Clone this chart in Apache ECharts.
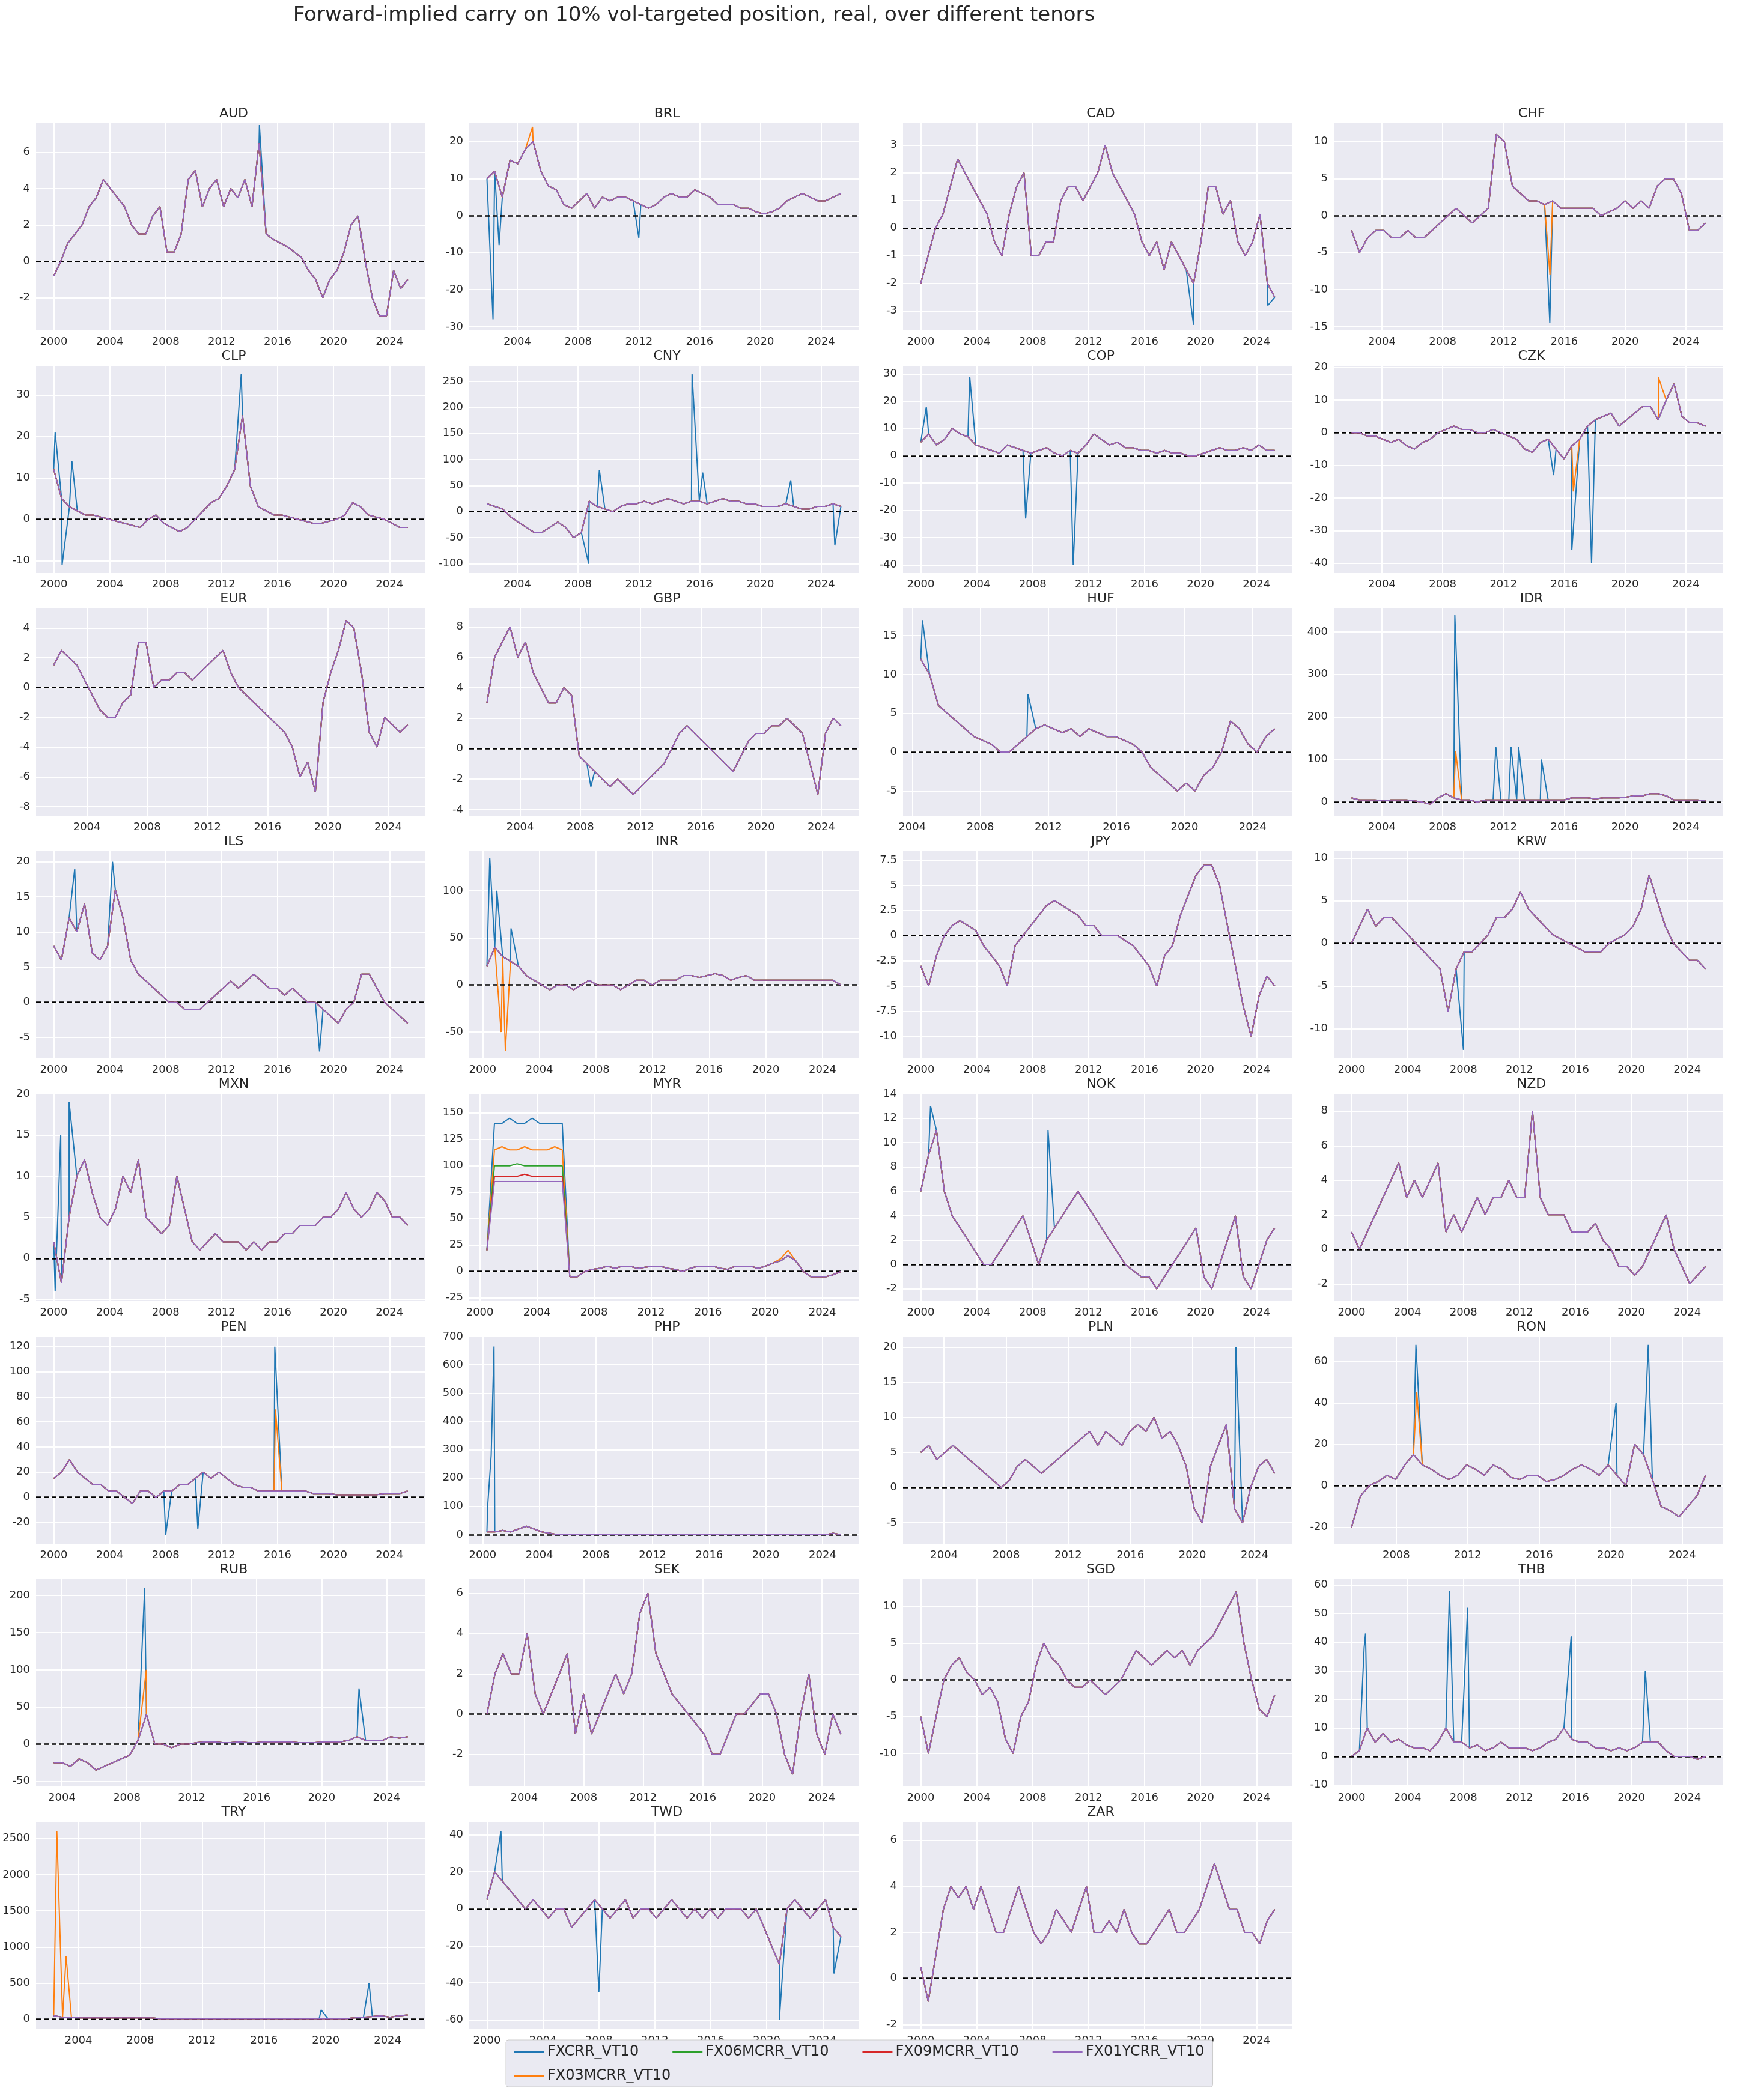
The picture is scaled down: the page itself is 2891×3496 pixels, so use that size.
<!DOCTYPE html>
<html>
<head>
<meta charset="utf-8">
<script src="https://cdn.jsdelivr.net/npm/echarts@6/dist/echarts.min.js"></script>
<style>html,body{margin:0;background:#fff}#chart{width:2891px;height:3496px}</style>
</head>
<body>
<div id="chart"></div>
<script>
// series names, drawn in this order (purple on top)
const seriesNames = ["FXCRR_VT10", "FX03MCRR_VT10", "FX06MCRR_VT10", "FX09MCRR_VT10", "FX01YCRR_VT10"];
const colors = ["#1f77b4", "#ff7f0e", "#2ca02c", "#d62728", "#9467bd"];

// each panel: name, start/end year, purple values (evenly spaced), y range, y ticks [first, step]
// s = extra spike points [year, value, series index]
const panels = [
  {n: "AUD", a: 2000, e: 2025.3, yr: [-3.8, 7.6], yt: [-2, 2], s: [[2014.7, 7.5, 0]],
   p: [-0.8,0,1,1.5,2,3,3.5,4.5,4,3.5,3,2,1.5,1.5,2.5,3,0.5,0.5,1.5,4.5,5,3,4,4.5,3,4,3.5,4.5,3,6.5,1.5,1.2,1,0.8,0.5,0.2,-0.5,-1,-2,-1,-0.5,0.5,2,2.5,0,-2,-3,-3,-0.5,-1.5,-1]},
  {n: "BRL", a: 2002, e: 2025.3, yr: [-31, 25], yt: [-30, 10], s: [[2002.4, -28, 0], [2002.8, -8, 0], [2012, -6, 0], [2005, 24, 1]],
   p: [10,12,5,15,14,18,20,12,8,7,3,2,4,6,2,5,4,5,5,4,3,2,3,5,6,5,5,7,6,5,3,3,3,2,2,1,0.5,1,2,4,5,6,5,4,4,5,6]},
  {n: "CAD", a: 2000, e: 2025.3, yr: [-3.7, 3.8], yt: [-3, 1], s: [[2019.5, -3.5, 0], [2024.8, -2.8, 0]],
   p: [-2,-1,0,0.5,1.5,2.5,2,1.5,1,0.5,-0.5,-1,0.5,1.5,2,-1,-1,-0.5,-0.5,1,1.5,1.5,1,1.5,2,3,2,1.5,1,0.5,-0.5,-1,-0.5,-1.5,-0.5,-1,-1.5,-2,-0.5,1.5,1.5,0.5,1,-0.5,-1,-0.5,0.5,-2,-2.5]},
  {n: "CHF", a: 2002, e: 2025.3, yr: [-15.5, 12.5], yt: [-15, 5], s: [[2015.05, -14.5, 0], [2015.06, -8, 1]],
   p: [-2,-5,-3,-2,-2,-3,-3,-2,-3,-3,-2,-1,0,1,0,-1,0,1,11,10,4,3,2,2,1.5,2,1,1,1,1,1,0,0.5,1,2,1,2,1,4,5,5,3,-2,-2,-1]},
  {n: "CLP", a: 2000, e: 2025.3, yr: [-13, 37], yt: [-10, 10], s: [[2000.1, 21, 0], [2000.6, -11, 0], [2013.4, 35, 0], [2001.3, 14, 0]],
   p: [12,5,3,2,1,1,0.5,0,-0.5,-1,-1.5,-2,0,1,-1,-2,-3,-2,0,2,4,5,8,12,25,8,3,2,1,1,0.5,0,-0.5,-1,-1,-0.5,0,1,4,3,1,0.5,0,-1,-2,-2]},
  {n: "CNY", a: 2002, e: 2025.3, yr: [-118, 280], yt: [-100, 50], s: [[2015.5, 265, 0], [2009.4, 80, 0], [2008.7, -100, 0], [2024.9, -65, 0], [2022, 60, 0], [2016.2, 75, 0]],
   p: [15,10,5,-10,-20,-30,-40,-40,-30,-20,-30,-50,-40,20,10,5,0,10,15,15,20,15,20,25,20,15,20,20,15,20,25,20,20,15,15,10,10,10,15,10,5,5,10,10,15,10]},
  {n: "COP", a: 2000, e: 2025.3, yr: [-43, 33], yt: [-40, 10], s: [[2003.5, 29, 0], [2010.9, -40, 0], [2007.5, -23, 0], [2000.4, 18, 0]],
   p: [5,8,4,6,10,8,7,4,3,2,1,4,3,2,1,2,3,1,0,2,1,4,8,6,4,5,3,3,2,2,1,2,1,1,0,0,1,2,3,2,2,3,2,4,2,2]},
  {n: "CZK", a: 2002, e: 2025.3, yr: [-43, 20.5], yt: [-40, 10], s: [[2017.8, -40, 0], [2016.5, -36, 0], [2015.3, -13, 0], [2016.6, -18, 1], [2022.2, 17, 1]],
   p: [0,0,-1,-1,-2,-3,-2,-4,-5,-3,-2,0,1,2,1,1,0,0,1,0,-1,-2,-5,-6,-3,-2,-5,-8,-4,-2,2,4,5,6,2,4,6,8,8,4,10,15,5,3,3,2]},
  {n: "EUR", a: 2001.8, e: 2025.3, yr: [-8.6, 5.3], yt: [-8, 2], s: [],
   p: [1.5,2.5,2,1.5,0.5,-0.5,-1.5,-2,-2,-1,-0.5,3,3,0,0.5,0.5,1,1,0.5,1,1.5,2,2.5,1,0,-0.5,-1,-1.5,-2,-2.5,-3,-4,-6,-5,-7,-1,1,2.5,4.5,4,1,-3,-4,-2,-2.5,-3,-2.5]},
  {n: "GBP", a: 2001.8, e: 2025.3, yr: [-4.4, 9.2], yt: [-4, 2], s: [[2008.7, -2.5, 0]],
   p: [3,6,7,8,6,7,5,4,3,3,4,3.5,-0.5,-1,-1.5,-2,-2.5,-2,-2.5,-3,-2.5,-2,-1.5,-1,0,1,1.5,1,0.5,0,-0.5,-1,-1.5,-0.5,0.5,1,1,1.5,1.5,2,1.5,1,-1,-3,1,2,1.5]},
  {n: "HUF", a: 2004.5, e: 2025.3, yr: [-8.2, 18.5], yt: [-5, 5], s: [[2004.6, 17, 0], [2010.8, 7.5, 0]],
   p: [12,10,6,5,4,3,2,1.5,1,0,0,1,2,3,3.5,3,2.5,3,2,3,2.5,2,2,1.5,1,0,-2,-3,-4,-5,-4,-5,-3,-2,0,4,3,1,0,2,3]},
  {n: "IDR", a: 2002, e: 2025.3, yr: [-32, 455], yt: [0, 100], s: [[2008.8, 440, 0], [2011.5, 130, 0], [2012.5, 130, 0], [2013, 130, 0], [2014.5, 100, 0], [2008.85, 120, 1]],
   p: [10,5,5,5,3,5,5,5,3,0,-5,10,20,10,5,5,0,5,5,5,5,5,5,5,5,5,5,5,10,10,10,8,10,10,10,12,15,15,20,20,15,5,5,5,5,3]},
  {n: "ILS", a: 2000, e: 2025.3, yr: [-8, 21.5], yt: [-5, 5], s: [[2004.2, 20, 0], [2001.5, 19, 0], [2019, -7, 0]],
   p: [8,6,12,10,14,7,6,8,16,12,6,4,3,2,1,0,0,-1,-1,-1,0,1,2,3,2,3,4,3,2,2,1,2,1,0,0,-1,-2,-3,-1,0,4,4,2,0,-1,-2,-3]},
  {n: "INR", a: 2000.3, e: 2025.3, yr: [-78, 142], yt: [-50, 50], s: [[2000.5, 135, 0], [2001, 100, 0], [2002, 60, 0], [2001.6, -70, 1], [2001.3, -50, 1]],
   p: [20,40,30,25,20,10,5,0,-5,0,0,-5,0,5,0,0,0,-5,0,5,5,0,5,5,5,10,10,8,10,12,10,5,8,10,5,5,5,5,5,5,5,5,5,5,5,0]},
  {n: "JPY", a: 2000, e: 2025.3, yr: [-12.2, 8.4], yt: [-10, 2.5], s: [],
   p: [-3,-5,-2,0,1,1.5,1,0.5,-1,-2,-3,-5,-1,0,1,2,3,3.5,3,2.5,2,1,1,0,0,0,-0.5,-1,-2,-3,-5,-2,-1,2,4,6,7,7,5,1,-3,-7,-10,-6,-4,-5]},
  {n: "KRW", a: 2000, e: 2025.3, yr: [-13.5, 10.8], yt: [-10, 5], s: [[2008, -12.5, 0]],
   p: [0,2,4,2,3,3,2,1,0,-1,-2,-3,-8,-3,-1,-1,0,1,3,3,4,6,4,3,2,1,0.5,0,-0.5,-1,-1,-1,0,0.5,1,2,4,8,5,2,0,-1,-2,-2,-3]},
  {n: "MXN", a: 2000, e: 2025.3, yr: [-5.2, 20], yt: [-5, 5], s: [[2000.5, 15, 0], [2001.1, 19, 0], [2000.1, -4, 0]],
   p: [2,-3,5,10,12,8,5,4,6,10,8,12,5,4,3,4,10,6,2,1,2,3,2,2,2,1,2,1,2,2,3,3,4,4,4,5,5,6,8,6,5,6,8,7,5,5,4]},
  {n: "MYR", a: 2000.5, e: 2025.3, yr: [-28, 168], yt: [-25, 25], s: [],
   b: [20,140,140,145,140,140,145,140,140,140,140,-5,-5,0,2,3,5,3,5,5,3,4,5,5,3,2,0,3,5,5,5,3,2,5,5,5,3,5,8,10,15,10,0,-5,-5,-5,-3,0],
   o: [20,115,118,115,115,118,115,115,115,118,115,-5,-5,0,2,3,5,3,5,5,3,4,5,5,3,2,0,3,5,5,5,3,2,5,5,5,3,5,8,12,20,10,0,-5,-5,-5,-3,0],
   g: [20,100,100,100,102,100,100,100,100,100,100,-5,-5,0,2,3,5,3,5,5,3,4,5,5,3,2,0,3,5,5,5,3,2,5,5,5,3,5,8,10,15,10,0,-5,-5,-5,-3,0],
   r: [20,90,90,90,90,92,90,90,90,90,90,-5,-5,0,2,3,5,3,5,5,3,4,5,5,3,2,0,3,5,5,5,3,2,5,5,5,3,5,8,10,15,10,0,-5,-5,-5,-3,0],
   p: [20,85,85,85,85,85,85,85,85,85,85,-5,-5,0,2,3,5,3,5,5,3,4,5,5,3,2,0,3,5,5,5,3,2,5,5,5,3,5,8,10,15,10,0,-5,-5,-5,-3,0]},
  {n: "NOK", a: 2000, e: 2025.3, yr: [-3, 14], yt: [-2, 2], s: [[2009.1, 11, 0], [2000.7, 13, 0]],
   p: [6,9,11,6,4,3,2,1,0,0,1,2,3,4,2,0,2,3,4,5,6,5,4,3,2,1,0,-0.5,-1,-1,-2,-1,0,1,2,3,-1,-2,0,2,4,-1,-2,0,2,3]},
  {n: "NZD", a: 2000, e: 2025.3, yr: [-3, 9], yt: [-2, 2], s: [],
   p: [1,0,1,2,3,4,5,3,4,3,4,5,1,2,1,2,3,2,3,3,4,3,3,8,3,2,2,2,1,1,1,1.5,0.5,0,-1,-1,-1.5,-1,0,1,2,0,-1,-2,-1.5,-1]},
  {n: "PEN", a: 2000, e: 2025.3, yr: [-37, 128], yt: [-20, 20], s: [[2015.8, 120, 0], [2008, -30, 0], [2010.3, -25, 0], [2015.85, 70, 1]],
   p: [15,20,30,20,15,10,10,5,5,0,-5,5,5,0,5,5,10,10,15,20,15,20,15,10,8,8,5,5,5,5,5,5,5,3,3,3,2,2,2,2,2,2,3,3,3,5]},
  {n: "PHP", a: 2000.3, e: 2025.3, yr: [-32, 700], yt: [0, 100], s: [[2000.8, 665, 0], [2000.6, 280, 0], [2000.35, 100, 0]],
   p: [10,10,15,10,20,30,20,10,5,0,0,0,0,0,0,0,0,0,0,0,0,0,0,0,0,0,0,0,0,0,0,0,0,0,0,0,0,0,0,0,0,0,0,0,5,0]},
  {n: "PLN", a: 2002.5, e: 2025.3, yr: [-8, 21.5], yt: [-5, 5], s: [[2022.8, 20, 0]],
   p: [5,6,4,5,6,5,4,3,2,1,0,1,3,4,3,2,3,4,5,6,7,8,6,8,7,6,8,9,8,10,7,8,6,3,-3,-5,3,6,9,-3,-5,0,3,4,2]},
  {n: "RON", a: 2005.5, e: 2025.3, yr: [-28, 72], yt: [-20, 20], s: [[2009.1, 68, 0], [2022.1, 68, 0], [2020.3, 40, 0], [2009.15, 45, 1]],
   p: [-20,-5,0,2,5,3,10,15,10,8,5,3,5,10,8,5,10,8,4,3,5,5,2,3,5,8,10,8,5,10,5,0,20,15,3,-10,-12,-15,-10,-5,5]},
  {n: "RUB", a: 2003.5, e: 2025.3, yr: [-57, 222], yt: [-50, 50], s: [[2009.1, 210, 0], [2009.2, 100, 1], [2022.3, 75, 0]],
   p: [-25,-25,-30,-20,-25,-35,-30,-25,-20,-15,5,40,0,0,-5,0,0,2,3,3,2,2,3,2,2,3,3,3,3,2,2,2,3,3,3,5,10,5,5,5,10,8,10]},
  {n: "SEK", a: 2001.5, e: 2025.3, yr: [-3.6, 6.7], yt: [-2, 2], s: [],
   p: [0,2,3,2,2,4,1,0,1,2,3,-1,1,-1,0,1,2,1,2,5,6,3,2,1,0.5,0,-0.5,-1,-2,-2,-1,0,0,0.5,1,1,0,-2,-3,0,2,-1,-2,0,-1]},
  {n: "SGD", a: 2000, e: 2025.3, yr: [-14.5, 13.7], yt: [-10, 5], s: [],
   p: [-5,-10,-5,0,2,3,1,0,-2,-1,-3,-8,-10,-5,-3,2,5,3,2,0,-1,-1,0,-1,-2,-1,0,2,4,3,2,3,4,3,4,2,4,5,6,8,10,12,5,0,-4,-5,-2]},
  {n: "THB", a: 2000, e: 2025.3, yr: [-10.5, 62], yt: [-10, 10], s: [[2007, 58, 0], [2001, 43, 0], [2000.9, 38, 0], [2008.3, 52, 0], [2015.7, 42, 0], [2021, 30, 0]],
   p: [0,2,10,5,8,5,6,4,3,3,2,5,10,5,5,3,4,2,3,5,3,3,3,2,3,5,6,10,6,5,5,3,3,2,3,2,3,5,5,5,2,0,0,0,-1,0]},
  {n: "TRY", a: 2002.4, e: 2025.3, yr: [-135, 2730], yt: [0, 500], s: [[2002.6, 2600, 1], [2003.2, 870, 1], [2022.8, 500, 0], [2019.7, 130, 0]],
   p: [50,30,30,20,20,20,20,20,20,20,20,20,10,10,10,10,10,10,10,10,10,10,10,10,10,10,10,10,10,10,10,10,10,10,20,30,40,50,30,50,60]},
  {n: "TWD", a: 2000, e: 2025.3, yr: [-65, 47], yt: [-60, 20], s: [[2001, 42, 0], [2020.9, -60, 0], [2008, -45, 0], [2024.8, -35, 0]],
   p: [5,20,15,10,5,0,5,0,-5,0,0,-10,-5,0,5,0,-5,0,5,-5,0,0,-5,0,5,0,-5,0,-5,0,-5,0,0,0,-5,0,-10,-20,-30,0,5,0,-5,0,5,-10,-15]},
  {n: "ZAR", a: 2000, e: 2025.3, yr: [-2.2, 6.8], yt: [-2, 2], s: [],
   p: [0.5,-1,1,3,4,3.5,4,3,4,3,2,2,3,4,3,2,1.5,2,3,2.5,2,3,4,2,2,2.5,2,3,2,1.5,1.5,2,2.5,3,2,2,2.5,3,4,5,4,3,3,2,2,1.5,2.5,3]}
];

const colLeft = [60, 781, 1503, 2220];
const plotW = 648, plotH = 345, rowTop = 205, rowStep = 404;

const grids = [], xAxes = [], yAxes = [], series = [], titles = [];

panels.forEach(function (pn, i) {
  const col = i % 4, row = Math.floor(i / 4);
  const left = colLeft[col], top = rowTop + row * rowStep;
  grids.push({left: left, top: top, width: plotW, height: plotH, show: true, backgroundColor: "#eaeaf2", borderWidth: 0});
  titles.push({text: pn.n, left: left + plotW / 2, top: top - 32, textAlign: "center",
    textStyle: {fontSize: 22, fontWeight: "normal", color: "#262626", fontFamily: "DejaVu Sans"}});

  const span = pn.e - pn.a;
  const xTicks = [];
  for (let y = 2000; y <= 2028; y += 4) if (y >= pn.a - 0.05 * span && y <= pn.e + 0.05 * span) xTicks.push(y);
  const yTicks = [];
  for (let v = pn.yt[0]; v <= pn.yr[1]; v += pn.yt[1]) if (v >= pn.yr[0]) yTicks.push(v);

  xAxes.push({type: "value", gridIndex: i, min: pn.a - 0.05 * span, max: pn.e + 0.05 * span,
    axisLine: {show: false}, axisTick: {show: false, customValues: xTicks},
    axisLabel: {customValues: xTicks, formatter: function (v) { return String(v); },
      fontSize: 18, color: "#262626", fontFamily: "DejaVu Sans", margin: 10},
    splitLine: {show: true, lineStyle: {color: "#fff", width: 2}}});
  yAxes.push({type: "value", gridIndex: i, min: pn.yr[0], max: pn.yr[1],
    axisLine: {show: false}, axisTick: {show: false, customValues: yTicks},
    axisLabel: {customValues: yTicks, formatter: function (v) { return String(v); },
      fontSize: 18, color: "#262626", fontFamily: "DejaVu Sans", margin: 10},
    splitLine: {show: true, lineStyle: {color: "#fff", width: 2}}});

  const n = pn.p.length;
  const step = span / (n - 1);
  const full = [pn.b || pn.p, pn.o || pn.p, pn.g || pn.p, pn.r || pn.p, pn.p];
  full.forEach(function (vals, k) {
    let pts = vals.map(function (v, j) { return [pn.a + j * step, v]; });
    pn.s.forEach(function (sp) { if (sp[2] === k) pts.push([sp[0], sp[1]]); });
    pts.sort(function (u, w) { return u[0] - w[0]; });
    const s = {name: seriesNames[k], type: "line", xAxisIndex: i, yAxisIndex: i, data: pts,
      showSymbol: false, lineStyle: {width: 2, color: colors[k]}, itemStyle: {color: colors[k]}, z: 2 + k};
    if (k === 4) {
      s.markLine = {silent: true, symbol: "none", label: {show: false},
        lineStyle: {color: "#000", type: [8, 5], width: 2.5}, data: [{yAxis: 0}]};
    }
    series.push(s);
  });
});

titles.push({text: "Forward-implied carry on 10% vol-targeted position, real, over different tenors",
  left: 1150, top: 4, textAlign: "center",
  textStyle: {fontSize: 34, fontWeight: "normal", color: "#262626", fontFamily: "DejaVu Sans"}});

const legendText = {fontSize: 24, color: "#262626", fontFamily: "DejaVu Sans"};
const chart = echarts.init(document.getElementById("chart"));
chart.setOption({
  animation: false,
  backgroundColor: "#fff",
  title: titles,
  legend: [
    {data: [seriesNames[0], seriesNames[2], seriesNames[3], seriesNames[4]], left: 842, top: 3396, itemWidth: 50, itemHeight: 3, itemGap: 56,
      icon: "rect", textStyle: legendText,
      backgroundColor: "#eaeaf2", borderColor: "#cccccc", borderWidth: 1, borderRadius: 4, padding: [8, 14, 46, 14]},
    {data: [seriesNames[1]], left: 842, top: 3436, itemWidth: 50, itemHeight: 3, icon: "rect",
      textStyle: legendText, padding: [8, 14, 8, 14]}
  ],
  grid: grids,
  xAxis: xAxes,
  yAxis: yAxes,
  series: series
});
</script>
</body>
</html>
